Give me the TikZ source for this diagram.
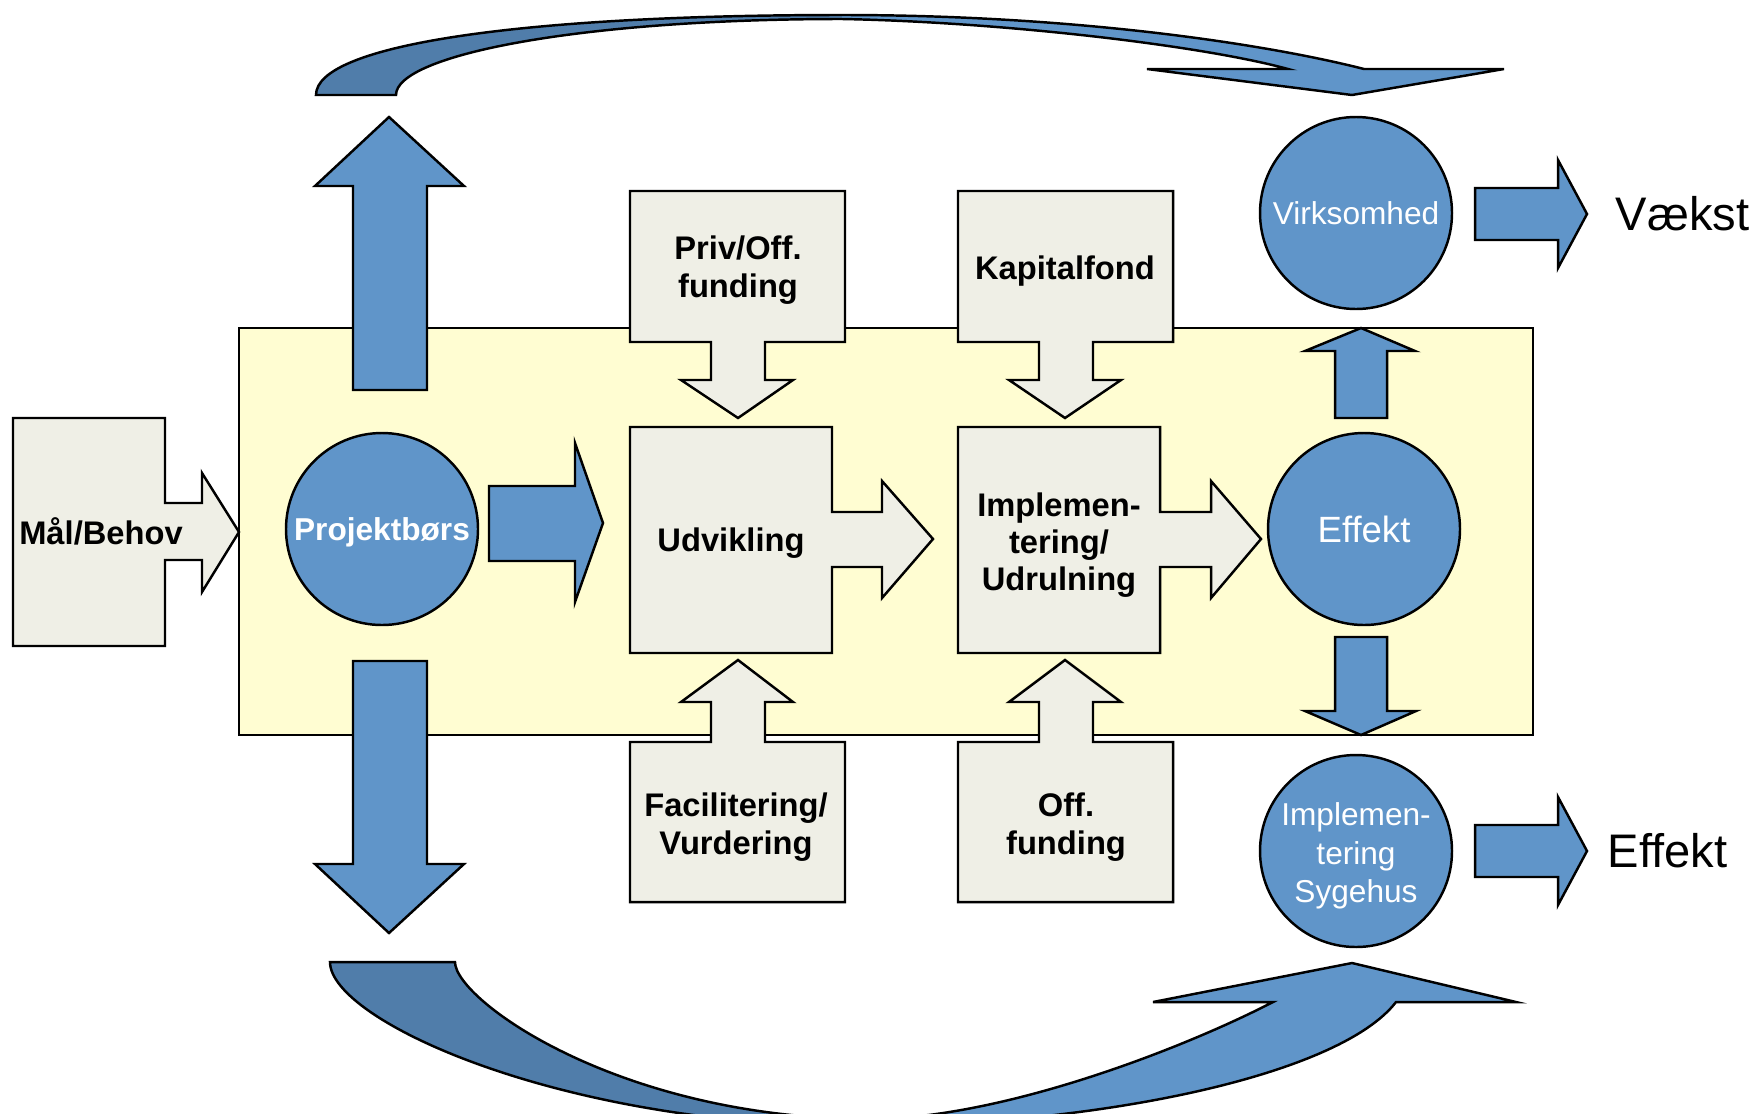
\documentclass[tikz,border=0pt]{standalone}
\usepackage{fontspec}
\setmainfont{Liberation Sans}

\definecolor{boxblue}{RGB}{96,149,201}
\definecolor{tailblue}{RGB}{80,125,170}
\definecolor{paleyellow}{RGB}{255,253,210}
\definecolor{boxgrey}{RGB}{239,239,230}

\tikzset{
  outline/.style={draw=black, line width=0.7pt, line join=miter},
  blueshape/.style={outline, fill=boxblue},
  greyshape/.style={outline, fill=boxgrey},
  bluecircle/.style={circle, outline, fill=boxblue, minimum size=19.2mm, inner sep=0pt,
    text=white, align=center},
  boldlabel/.style={font=\fontsize{9.3}{10.6}\selectfont\bfseries, align=center, inner sep=0pt},
  bigword/.style={font=\fontsize{13.4}{16}\selectfont, anchor=base west, inner sep=0pt}
}

\begin{document}
\begin{tikzpicture}[x=0.1mm, y=-0.1mm]
%\draw[help lines] (0, 0) grid (1757, 1113);
\clip (0, 0) rectangle (1757, 1113);
\fill [white] (0, 0) rectangle (1757, 1113);

% curved arrow over the top
\fill [tailblue] (316, 95) .. controls (316, 45) and (520, 15) .. (842, 15) -- (842, 19)
  .. controls (580, 19) and (396, 55) .. (396, 95) -- cycle;
\fill [boxblue] (842, 15) .. controls (1080, 15) and (1270, 45) .. (1364, 69)
  -- (1504, 69) -- (1352, 95) -- (1147, 69) -- (1288, 69)
  .. controls (1200, 45) and (1000, 22) .. (842, 19) -- cycle;
\draw [outline] (316, 95) .. controls (316, 45) and (520, 15) .. (842, 15)
  .. controls (1080, 15) and (1270, 45) .. (1364, 69)
  -- (1504, 69) -- (1352, 95) -- (1147, 69) -- (1288, 69)
  .. controls (1200, 45) and (1000, 22) .. (842, 19)
  .. controls (580, 19) and (396, 55) .. (396, 95) -- cycle;

% curved arrow under the bottom
\fill [tailblue] (330, 962) .. controls (330, 1020) and (560, 1126) .. (860, 1126) -- (870, 1119)
  .. controls (620, 1119) and (455, 1000) .. (455, 962) -- cycle;
\fill [boxblue] (860, 1126) .. controls (1100, 1126) and (1340, 1075) .. (1396, 1002)
  -- (1516, 1002) -- (1352, 963) -- (1153, 1002) -- (1273, 1002)
  .. controls (1180, 1050) and (1000, 1119) .. (870, 1119) -- cycle;
\draw [outline] (330, 962) .. controls (330, 1020) and (560, 1126) .. (860, 1126)
  .. controls (1100, 1126) and (1340, 1075) .. (1396, 1002)
  -- (1516, 1002) -- (1352, 963) -- (1153, 1002) -- (1273, 1002)
  .. controls (1180, 1050) and (1000, 1119) .. (870, 1119)
  .. controls (620, 1119) and (455, 1000) .. (455, 962) -- cycle;

% yellow panel
\draw [outline, fill=paleyellow] (239, 328) rectangle (1533, 735);

% grey callouts
\draw [greyshape] (13, 418) -- (165, 418) -- (165, 503) -- (202, 503) -- (202, 473) -- (239, 532)
  -- (202, 592) -- (202, 560) -- (165, 560) -- (165, 646) -- (13, 646) -- cycle;
\draw [greyshape] (630, 191) -- (845, 191) -- (845, 342) -- (765, 342) -- (765, 380) -- (793, 380)
  -- (738, 418) -- (681, 380) -- (711, 380) -- (711, 342) -- (630, 342) -- cycle;
\draw [greyshape] (958, 191) -- (1173, 191) -- (1173, 342) -- (1093, 342) -- (1093, 380) -- (1121, 380)
  -- (1065, 418) -- (1009, 380) -- (1039, 380) -- (1039, 342) -- (958, 342) -- cycle;
\draw [greyshape] (630, 427) -- (832, 427) -- (832, 512) -- (882, 512) -- (882, 481) -- (933, 539)
  -- (882, 598) -- (882, 567) -- (832, 567) -- (832, 653) -- (630, 653) -- cycle;
\draw [greyshape] (958, 427) -- (1160, 427) -- (1160, 512) -- (1211, 512) -- (1211, 481) -- (1261, 539)
  -- (1211, 598) -- (1211, 567) -- (1160, 567) -- (1160, 653) -- (958, 653) -- cycle;
\draw [greyshape] (630, 902) -- (845, 902) -- (845, 742) -- (765, 742) -- (765, 702) -- (793, 702)
  -- (738, 660) -- (681, 702) -- (711, 702) -- (711, 742) -- (630, 742) -- cycle;
\draw [greyshape] (958, 902) -- (1173, 902) -- (1173, 742) -- (1093, 742) -- (1093, 702) -- (1121, 702)
  -- (1065, 660) -- (1009, 702) -- (1039, 702) -- (1039, 742) -- (958, 742) -- cycle;

% blue block arrows
\draw [blueshape] (353, 390) -- (353, 186) -- (315, 186) -- (389, 117) -- (464, 186) -- (427, 186)
  -- (427, 390) -- cycle;
\draw [blueshape] (353, 661) -- (427, 661) -- (427, 864) -- (464, 864) -- (389, 933) -- (315, 864)
  -- (353, 864) -- cycle;
\draw [blueshape] (489, 486) -- (575, 486) -- (575, 443) -- (603, 523) -- (575, 602) -- (575, 561)
  -- (489, 561) -- cycle;
\draw [blueshape] (1335, 418) -- (1335, 351) -- (1305, 351) -- (1361, 328) -- (1415, 351)
  -- (1387, 351) -- (1387, 418) -- cycle;
\draw [blueshape] (1335, 637) -- (1387, 637) -- (1387, 711) -- (1416, 711) -- (1361, 735)
  -- (1305, 711) -- (1335, 711) -- cycle;
\draw [blueshape] (1475, 188) -- (1558, 188) -- (1558, 160) -- (1587, 214) -- (1558, 268)
  -- (1558, 240) -- (1475, 240) -- cycle;
\draw [blueshape] (1475, 825) -- (1558, 825) -- (1558, 797) -- (1587, 851) -- (1558, 905)
  -- (1558, 877) -- (1475, 877) -- cycle;

% circles
\node [bluecircle, font=\fontsize{9}{11}\selectfont\bfseries, text depth=0pt] (boers) at (382, 529) {Projektbørs};
\node [bluecircle, font=\fontsize{10.4}{12}\selectfont] (effekt) at (1364, 529) {Effekt};
\node [bluecircle, font=\fontsize{9}{11}\selectfont] (virksomhed) at (1356, 213) {Virksomhed};
\node [bluecircle] (sygehus) at (1356, 851) {};
\node [text=white, align=center, inner sep=0pt, font=\fontsize{9}{10.9}\selectfont] (sygehustekst)
  at (1356, 856) {Implemen-\\tering\\Sygehus};

% texts
\node [boldlabel] (maal) at (101, 531) {Mål/Behov};
\node [boldlabel] (privoff) at (738, 270) {Priv/Off.\\funding};
\node [boldlabel] (kapital) at (1065, 271) {Kapitalfond};
\node [boldlabel] (udvikling) at (731, 543) {Udvikling};
\node [boldlabel] (udrulning) at (1059, 545) {Implemen-\\tering/\\Udrulning};
\node [boldlabel] (facil) at (736, 827) {Facilitering/\\Vurdering};
\node [boldlabel] (offfund) at (1066, 827) {Off.\\funding};
\node [bigword] (vaekst) at (1615, 230) {Vækst};
\node [bigword] (effektord) at (1607, 867) {Effekt};
\end{tikzpicture}
\end{document}
